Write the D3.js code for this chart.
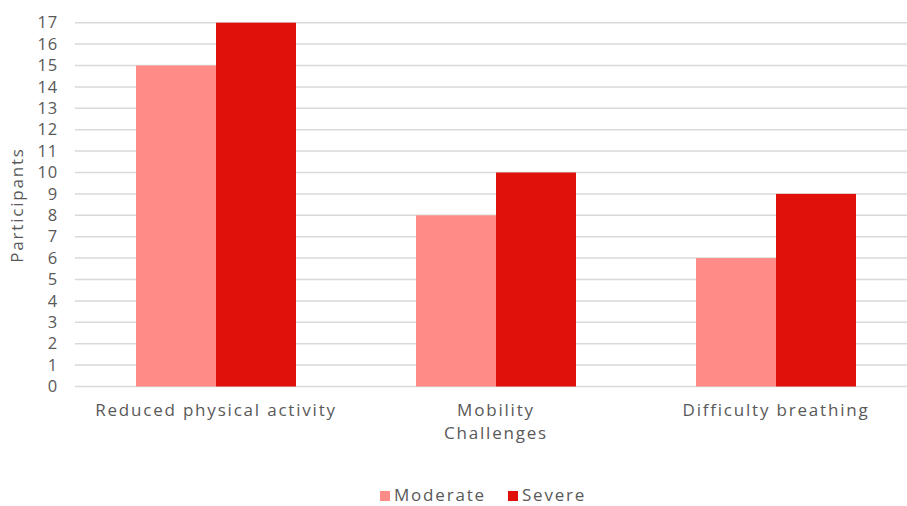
<!DOCTYPE html>
<html>
<head>
<meta charset="utf-8">
<script src="https://cdn.jsdelivr.net/npm/d3@7"></script>
<style>
  html, body { margin: 0; padding: 0; background: #fff; }
  svg { display: block; }
  text { font-family: "Open Sans", "DejaVu Sans", sans-serif; fill: #595959; }
</style>
</head>
<body>
<svg id="chart" width="907" height="506"></svg>
<script>
// Symptom groups and participant counts per severity
const categories = [["Reduced physical activity"], ["Mobility", "Challenges"], ["Difficulty breathing"]];
const seriesNames = ["Moderate", "Severe"];
const moderate = [15, 8, 6];
const severe = [17, 10, 9];
const yTicks = d3.range(0, 18);
const colors = ["#FF8C87", "#E0100A"];

const svg = d3.select("#chart");
const W = 907, H = 506;
const plot = { left: 76, right: 916, top: 22.7, bottom: 386.5 };
const labelFont = "17px";
const labelSpacing = "1.8px";

const keys = categories.map(c => c.join(" "));
const rows = keys.map((k, i) => ({ key: k, values: [moderate[i], severe[i]] }));

const x0 = d3.scaleBand().domain(keys).range([plot.left, plot.right]).paddingInner(0.4286).paddingOuter(0.2143);
const x1 = d3.scaleBand().domain(seriesNames).range([0, x0.bandwidth()]);
const y = d3.scaleLinear().domain([0, 17]).range([plot.bottom, plot.top]);

// gridlines
svg.append("g")
  .selectAll("line")
  .data(yTicks)
  .join("line")
  .attr("x1", 75).attr("x2", W)
  .attr("y1", d => y(d)).attr("y2", d => y(d))
  .attr("stroke", "#d9d9d9").attr("stroke-width", 1.5);

// y tick labels
const yAxis = d3.axisLeft(y).tickValues(yTicks).tickSize(0).tickPadding(0);
const gy = svg.append("g").attr("transform", "translate(58,0)").call(yAxis);
gy.select(".domain").remove();
gy.selectAll("text").style("font-size", "16.5px").style("fill", "#595959")
  .style("letter-spacing", "0.8px")
  .style("font-family", "'Open Sans', 'DejaVu Sans', sans-serif");

// bars
const groups = svg.append("g").selectAll("g")
  .data(rows).join("g")
  .attr("transform", d => `translate(${x0(d.key)},0)`);
groups.selectAll("rect")
  .data(d => d.values.map((v, i) => ({ name: seriesNames[i], v, i })))
  .join("rect")
  .attr("x", d => x1(d.name))
  .attr("width", x1.bandwidth())
  .attr("y", d => y(d.v))
  .attr("height", d => y(0) - y(d.v))
  .attr("fill", d => colors[d.i]);

// category labels
const xl = svg.append("g");
categories.forEach((lines, i) => {
  const cx = x0(keys[i]) + x0.bandwidth() / 2;
  const t = xl.append("text")
    .attr("text-anchor", "middle")
    .attr("x", cx)
    .attr("y", 416)
    .style("font-size", labelFont)
    .style("letter-spacing", labelSpacing);
  lines.forEach((ln, j) => {
    t.append("tspan").attr("x", cx).attr("dy", j === 0 ? 0 : 23).text(ln);
  });
});

// y axis title
svg.append("text")
  .attr("transform", "translate(23,205) rotate(-90)")
  .attr("text-anchor", "middle")
  .style("font-size", labelFont)
  .style("letter-spacing", labelSpacing)
  .text("Participants");

// legend
const legend = svg.append("g");
const legendItems = [{ name: "Moderate", x: 380 }, { name: "Severe", x: 508 }];
legendItems.forEach((it, i) => {
  legend.append("rect").attr("x", it.x).attr("y", 491).attr("width", 10).attr("height", 10).attr("fill", colors[i]);
  legend.append("text").attr("x", it.x + 14).attr("y", 501).style("font-size", labelFont)
    .style("letter-spacing", labelSpacing).text(it.name);
});
</script>
</body>
</html>
